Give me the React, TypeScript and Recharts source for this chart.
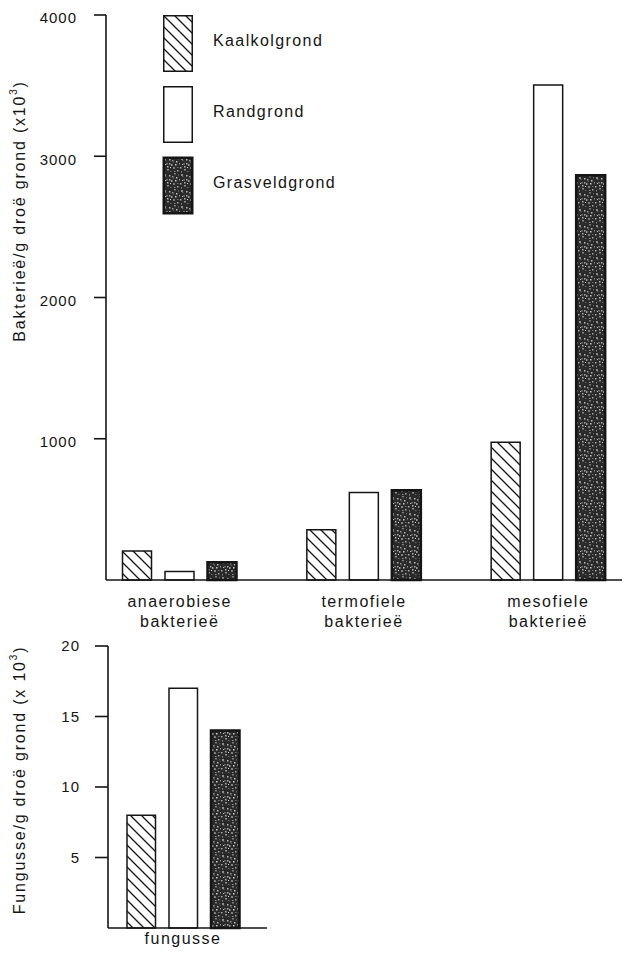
import React from 'react';
import { BarChart, Bar, XAxis, YAxis, Legend } from 'recharts';

// ---- data (top chart: bacteria, x10^3 per g dry soil) ----
const categories = ['anaerobiese\nbakterieë', 'termofiele\nbakterieë', 'mesofiele\nbakterieë'];
const kaalkolgrond = [205, 355, 975];
const randgrond = [60, 620, 3505];
const grasveldgrond = [125, 635, 2865];
const bactTicks = [1000, 2000, 3000, 4000];

// ---- data (bottom chart: fungi, x10^3 per g dry soil) ----
const fungusCategories = ['fungusse'];
const fungusKaal = [8];
const fungusRand = [17];
const fungusGras = [14];
const fungusTicks = [5, 10, 15, 20];

const seriesOrder = ['kaal', 'rand', 'gras'];
const seriesNames = { kaal: 'Kaalkolgrond', rand: 'Randgrond', gras: 'Grasveldgrond' };

const bactData = categories.map((c, i) => ({
  cat: c,
  kaal: kaalkolgrond[i],
  rand: randgrond[i],
  gras: grasveldgrond[i],
}));
const fungusData = fungusCategories.map((c, i) => ({
  cat: c,
  kaal: fungusKaal[i],
  rand: fungusRand[i],
  gras: fungusGras[i],
}));

const FONT = '"Liberation Sans", Arial, Helvetica, sans-serif';
const INK = '#151515';

const speckles: [number, number, number, number, string][] = [
  [1, 1, 2, 2, '#8a8a8a'], [6, 2, 1.5, 1.5, '#b8b8b8'], [3, 6, 2, 1.5, '#6a6a6a'],
  [8, 7, 1.5, 2, '#9a9a9a'], [0, 10, 1.5, 1.5, '#a8a8a8'], [11, 0, 2, 1.5, '#7a7a7a'],
  [4, 12, 2, 1.5, '#8e8e8e'], [2, 3, 1.5, 1, '#5e5e5e'], [13, 4, 1.5, 1.5, '#bcbcbc'],
  [10, 10, 2, 2, '#7d7d7d'], [14, 13, 1.5, 1.5, '#a0a0a0'], [7, 14, 1.5, 1, '#6c6c6c'],
  [12, 7, 1.5, 1.5, '#c8c8c8'], [1, 14, 1, 1.5, '#858585'], [9, 3, 1.5, 1.5, '#969696'],
  [15, 1, 1, 1.5, '#656565'], [4, 9, 1.5, 1.5, '#b0b0b0'], [11, 14, 1.5, 1, '#8c8c8c'],
  [14, 10, 1.5, 1, '#6e6e6e'], [6, 6, 1.5, 1.5, '#a9a9a9'], [16, 6, 1, 1.5, '#939393'],
  [7, 10, 1, 1, '#d0d0d0'], [2, 7, 1, 1, '#c0c0c0'], [10, 5, 1, 1, '#5a5a5a'],
];

function Patterns({ prefix }: { prefix: string }) {
  return (
    <defs>
      <pattern id={`${prefix}-hatch`} patternUnits="userSpaceOnUse" width={11} height={11}>
        <rect width={11} height={11} fill="#fff" />
        <path d="M0,0 L11,11 M-2,9 L2,13 M9,-2 L13,2" stroke={INK} strokeWidth={1.3} />
      </pattern>
      <pattern id={`${prefix}-dots`} patternUnits="userSpaceOnUse" width={17} height={16}>
        <rect width={17} height={16} fill="#2a2a2a" />
        {speckles.map(([x, y, w, h, c], i) => (
          <rect key={i} x={x} y={y} width={w} height={h} fill={c} />
        ))}
      </pattern>
    </defs>
  );
}

const fills: Record<string, string> = {
  kaal: 'hatch',
  rand: 'white',
  gras: 'dots',
};

function fillFor(prefix: string, key: string) {
  return fills[key] === 'white' ? '#fff' : `url(#${prefix}-${fills[key]})`;
}

function CatTick(props: any) {
  const { x, y, payload } = props;
  const lines = String(payload.value).split('\n');
  return (
    <text
      x={x}
      y={y}
      textAnchor="middle"
      fontFamily={FONT}
      fontSize={16}
      fill={INK}
      style={{ letterSpacing: 1.5 }}
    >
      {lines.map((l, i) => (
        <tspan key={i} x={x} dy={i === 0 ? '0.71em' : 20}>
          {l}
        </tspan>
      ))}
    </text>
  );
}

function makeTitle(main: string, dxOff: number, dyOff: number) {
  return (props: any) => {
    const vb = props.viewBox || { x: 0, y: 0 };
    const cx = vb.x + dxOff;
    const cy = vb.y + dyOff;
    return (
      <text
        transform={`translate(${cx}, ${cy}) rotate(-90)`}
        textAnchor="middle"
        dominantBaseline="central"
        fontFamily={FONT}
        fontSize={16}
        fill={INK}
        style={{ letterSpacing: 1.8 }}
      >
        {main}
        <tspan dy={-6} fontSize={10}>3</tspan>
        <tspan dy={6}>)</tspan>
      </text>
    );
  };
}

function LegendContent(props: any) {
  const payload = [...(props.payload || [])].sort(
    (a: any, b: any) => seriesOrder.indexOf(a.dataKey) - seriesOrder.indexOf(b.dataKey)
  );
  return (
    <svg width={200} height={200} style={{ display: 'block', overflow: 'visible' }}>
      <Patterns prefix="lg" />
      {payload.map((p: any, i: number) => (
        <g key={p.dataKey} transform={`translate(0, ${i * 71})`}>
          <rect
            x={0.75}
            y={0.75}
            width={28.5}
            height={55.5}
            fill={fillFor('lg', p.dataKey)}
            stroke={INK}
            strokeWidth={fills[p.dataKey] === 'dots' ? 2.5 : 1.5}
          />
          <text
            x={50}
            y={25}
            dominantBaseline="central"
            fontFamily={FONT}
            fontSize={16}
            fill={INK}
            style={{ letterSpacing: 1.4 }}
          >
            {p.value}
          </text>
        </g>
      ))}
    </svg>
  );
}

const tickStyle = { fontFamily: FONT, fontSize: 15, fill: INK, letterSpacing: 1 } as any;

export default function App() {
  return (
    <div style={{ position: 'relative', width: 630, height: 948, margin: '-8px -8px 0 -8px', background: '#fff' }}>
      <div style={{ position: 'absolute', left: 0, top: 0 }}>
        <BarChart
          width={630}
          height={630}
          data={bactData}
          margin={{ top: 15, right: 0, bottom: 0, left: 0 }}
          barSize={29}
          barGap={13.5}
        >
          <Patterns prefix="top" />
          <XAxis
            dataKey="cat"
            interval={0}
            tick={<CatTick />}
            tickLine={false}
            tickSize={0}
            tickMargin={15.6}
            height={50}
            padding={{ left: -18.5, right: -10.5 }}
            axisLine={{ stroke: INK, strokeWidth: 1.6 }}
          />
          <YAxis
            type="number"
            domain={[0, 4000]}
            ticks={bactTicks}
            width={106}
            tickSize={12}
            tickMargin={17}
            tick={{ ...tickStyle, dy: 3 }}
            axisLine={{ stroke: INK, strokeWidth: 1.6 }}
            tickLine={{ stroke: INK, strokeWidth: 1.6 }}
            label={{ content: makeTitle('Bakterieë/g droë grond (x10', 19, 196) }}
          />
          <Legend
            verticalAlign="middle"
            align="center"
            layout="vertical"
            wrapperStyle={{ position: 'absolute', left: 163, top: 15, width: 200, height: 220 }}
            content={<LegendContent />}
          />
          <Bar dataKey="kaal" name={seriesNames.kaal} fill={fillFor('top', 'kaal')} stroke={INK} strokeWidth={1.5} isAnimationActive={false} />
          <Bar dataKey="rand" name={seriesNames.rand} fill="#fff" stroke={INK} strokeWidth={1.5} isAnimationActive={false} />
          <Bar dataKey="gras" name={seriesNames.gras} fill={fillFor('top', 'gras')} stroke={INK} strokeWidth={2.5} isAnimationActive={false} />
        </BarChart>
      </div>
      <div style={{ position: 'absolute', left: 0, top: 630 }}>
        <BarChart
          width={280}
          height={326}
          data={fungusData}
          margin={{ top: 16, right: 13, bottom: 0, left: 0 }}
          barSize={28.5}
          barGap={13.5}
          style={{ overflow: 'visible' }}
        >
          <Patterns prefix="bot" />
          <XAxis
            dataKey="cat"
            interval={0}
            tick={<CatTick />}
            tickLine={false}
            tickSize={0}
            tickMargin={5}
            height={28}
            padding={{ left: 0, right: 9 }}
            axisLine={{ stroke: INK, strokeWidth: 1.6 }}
          />
          <YAxis
            type="number"
            domain={[0, 20]}
            ticks={fungusTicks}
            width={108}
            tickSize={13}
            tickMargin={15}
            tick={tickStyle}
            axisLine={{ stroke: INK, strokeWidth: 1.6 }}
            tickLine={{ stroke: INK, strokeWidth: 1.6 }}
            label={{ content: makeTitle('Fungusse/g droë grond (x 10', 19, 134) }}
          />
          <Bar dataKey="kaal" name={seriesNames.kaal} fill={fillFor('bot', 'kaal')} stroke={INK} strokeWidth={1.5} isAnimationActive={false} />
          <Bar dataKey="rand" name={seriesNames.rand} fill="#fff" stroke={INK} strokeWidth={1.5} isAnimationActive={false} />
          <Bar dataKey="gras" name={seriesNames.gras} fill={fillFor('bot', 'gras')} stroke={INK} strokeWidth={2.5} isAnimationActive={false} />
        </BarChart>
      </div>
    </div>
  );
}
